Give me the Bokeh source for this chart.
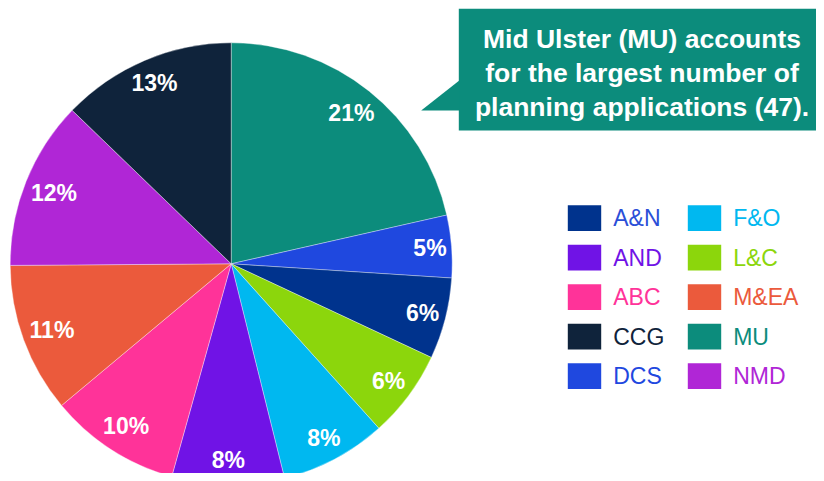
import math
from bokeh.plotting import figure
from bokeh.models import Range1d, ColumnDataSource
from bokeh.core.properties import value
from bokeh.embed import file_html
from bokeh.resources import INLINE

# ---------------- data ----------------
# slices clockwise from 12 o'clock
categories = ["MU", "DCS", "A&N", "L&C", "F&O", "AND", "ABC", "M&EA", "NMD", "CCG"]
counts = [47, 10, 13, 14, 17, 18, 21, 24, 27, 28]
slice_colors = ["#0C8C7C", "#1F48DF", "#00338D", "#8CD60C", "#00B8F0",
                "#7013E6", "#FF3399", "#EB5A3C", "#B026D6", "#0F233B"]
legend_order = ["A&N", "AND", "ABC", "CCG", "DCS", "F&O", "L&C", "M&EA", "MU", "NMD"]
legend_text_colors = {"A&N": "#2B4FD8"}
callout_lines = ["Mid Ulster (MU) accounts",
                 "for the largest number of",
                 "planning applications (47)."]

# ---------------- layout ----------------
W, H = 816, 473
FONT = "Liberation Sans"
cx, cy, R = 230.7, -263.3, 221.0
color_of = dict(zip(categories, slice_colors))

p = figure(width=W, height=H, output_backend="svg", toolbar_location=None,
           x_range=Range1d(0, W), y_range=Range1d(-H, 0),
           min_border=0, background_fill_color="white", border_fill_color="white")
p.axis.visible = False
p.grid.visible = False
p.outline_line_color = None

total = sum(counts)
starts, ends, lx, ly, labels = [], [], [], [], []
cum = 0
for c in counts:
    f0 = cum / total
    cum += c
    f1 = cum / total
    starts.append(math.pi / 2 - 2 * math.pi * f0)
    ends.append(math.pi / 2 - 2 * math.pi * f1)
    pct = round(100 * c / total)
    txt = f"{pct}%"
    th = 2 * math.pi * (f0 + f1) / 2
    ux, uy = math.sin(th), math.cos(th)
    w = (len(str(pct)) * 0.556 + 0.889) * 23
    half = abs(ux) * w / 2 + abs(uy) * 13
    d = R - 4 - half
    lx.append(cx + d * ux)
    ly.append(max(cy + d * uy, -H + 14))  # keep label inside the visible frame
    labels.append(txt)

src = ColumnDataSource(dict(start=starts, end=ends, color=slice_colors))
p.wedge(x=cx, y=cy, radius=R, start_angle="start", end_angle="end",
        direction="clock", fill_color="color", line_color="white",
        line_width=0.6, line_alpha=0.6, source=src)

p.text(x=lx, y=ly, text=labels, text_color="white", text_font=value(FONT),
       text_font_style="bold", text_font_size="23px",
       text_align="center", text_baseline="middle")

# legend
col_x = [567.3, 687.3]
row_y0, row_step = 217.7, 39.5
rx, ry, rc, tx, ty, tt, tc = [], [], [], [], [], [], []
for i, name in enumerate(legend_order):
    col, row = divmod(i, 5)
    x0 = col_x[col]
    yc = -(row_y0 + row * row_step)
    rx.append(x0 + 16.7)
    ry.append(yc)
    rc.append(color_of[name])
    tx.append(x0 + 45.4)
    ty.append(yc)
    tt.append(name)
    tc.append(legend_text_colors.get(name, color_of[name]))
p.rect(x=rx, y=ry, width=33.4, height=25.7, fill_color=rc, line_color=None)
p.text(x=tx, y=ty, text=tt, text_color=tc, text_font=value(FONT),
       text_font_size="23px", text_align="left", text_baseline="middle")

# callout
teal = color_of["MU"]
p.quad(left=458.3, right=W, top=-8.3, bottom=-130, fill_color=teal, line_color=None)
p.patch([420.7, 458.8, 458.8], [-110, -80, -110], fill_color=teal, line_color=None)
line_y = [-38, -72, -106]
p.text(x=[641.5] * 3, y=line_y, text=callout_lines, text_color="white",
       text_font=value(FONT), text_font_style="bold", text_font_size="26.5px",
       text_align="center", text_baseline="middle")

open("out.html", "w").write(file_html(p, INLINE))
